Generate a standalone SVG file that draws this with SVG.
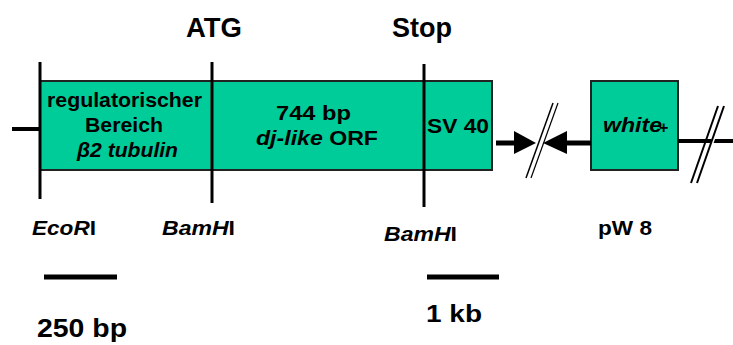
<svg xmlns="http://www.w3.org/2000/svg" width="733" height="345" viewBox="0 0 733 345">
<style>
text{font-family:"Liberation Sans",Arial,sans-serif;font-weight:bold;fill:#000}
.box{fill:#00CC99;stroke:#222;stroke-width:2}
.ln{stroke:#000;stroke-width:3;fill:none}
.thick{stroke:#000;stroke-width:5;fill:none}
.it{font-style:italic}
</style>
<g id="main-box">
<rect class="box" x="40" y="81" width="452" height="89"/>
<text x="47" y="107" font-size="20" textLength="155" lengthAdjust="spacingAndGlyphs">regulatorischer</text>
<text x="85" y="132" font-size="20" textLength="78" lengthAdjust="spacingAndGlyphs">Bereich</text>
<text x="77" y="157" font-size="20" class="it" textLength="101" lengthAdjust="spacingAndGlyphs">β2 tubulin</text>
<text x="276" y="120" font-size="21" textLength="75" lengthAdjust="spacingAndGlyphs">744 bp</text>
<text x="256" y="145" font-size="21" textLength="122" lengthAdjust="spacingAndGlyphs"><tspan class="it">dj-like</tspan> ORF</text>
<text x="427" y="133" font-size="21" textLength="62" lengthAdjust="spacingAndGlyphs">SV 40</text>
</g>
<g id="white-box">
<rect class="box" x="591" y="81" width="87" height="89"/>
<text x="603" y="132" font-size="20" class="it" textLength="59" lengthAdjust="spacingAndGlyphs">white</text>
<text x="659" y="133" font-size="16">+</text>
</g>
<g id="connectors">
<line class="ln" x1="40" y1="62" x2="40" y2="199"/>
<line class="ln" x1="212" y1="62" x2="212" y2="203"/>
<line class="ln" x1="424" y1="64" x2="424" y2="207"/>
<line x1="12" y1="129" x2="40" y2="129" stroke="#000" stroke-width="4"/>
<line x1="496" y1="143" x2="516" y2="143" stroke="#000" stroke-width="5"/>
<path d="M514,131L536,143L514,154z" fill="#000"/>
<line x1="591" y1="143" x2="565" y2="143" stroke="#000" stroke-width="5"/>
<path d="M567,131L543,143L567,154z" fill="#000"/>
<line x1="526" y1="178" x2="553" y2="103" stroke="#000" stroke-width="1.5"/>
<line x1="531" y1="178" x2="558" y2="103" stroke="#000" stroke-width="1.2"/>
<line x1="678" y1="141" x2="733" y2="141" stroke="#000" stroke-width="4"/>
<line x1="691" y1="183" x2="718" y2="106" stroke="#000" stroke-width="2"/>
<line x1="698" y1="183" x2="725" y2="106" stroke="#fff" stroke-width="3"/>
<line x1="697" y1="183" x2="724" y2="106" stroke="#000" stroke-width="2"/>
<line x1="44" y1="277" x2="117" y2="277" class="thick"/>
<line x1="427" y1="277" x2="499" y2="277" class="thick"/>
</g>
<g id="labels">
<text x="186" y="37" font-size="28" textLength="56" lengthAdjust="spacingAndGlyphs">ATG</text>
<text x="392" y="37" font-size="28" textLength="60" lengthAdjust="spacingAndGlyphs">Stop</text>
<text x="32" y="235" font-size="20" textLength="64" lengthAdjust="spacingAndGlyphs"><tspan class="it">EcoR</tspan>I</text>
<text x="162" y="235" font-size="20" textLength="73" lengthAdjust="spacingAndGlyphs"><tspan class="it">BamH</tspan>I</text>
<text x="384" y="241" font-size="20" textLength="73" lengthAdjust="spacingAndGlyphs"><tspan class="it">BamH</tspan>I</text>
<text x="598" y="235" font-size="20" textLength="54" lengthAdjust="spacingAndGlyphs">pW 8</text>
<text x="37" y="337" font-size="25" textLength="90" lengthAdjust="spacingAndGlyphs">250 bp</text>
<text x="426" y="322" font-size="24" textLength="56" lengthAdjust="spacingAndGlyphs">1 kb</text>
</g>
</svg>
